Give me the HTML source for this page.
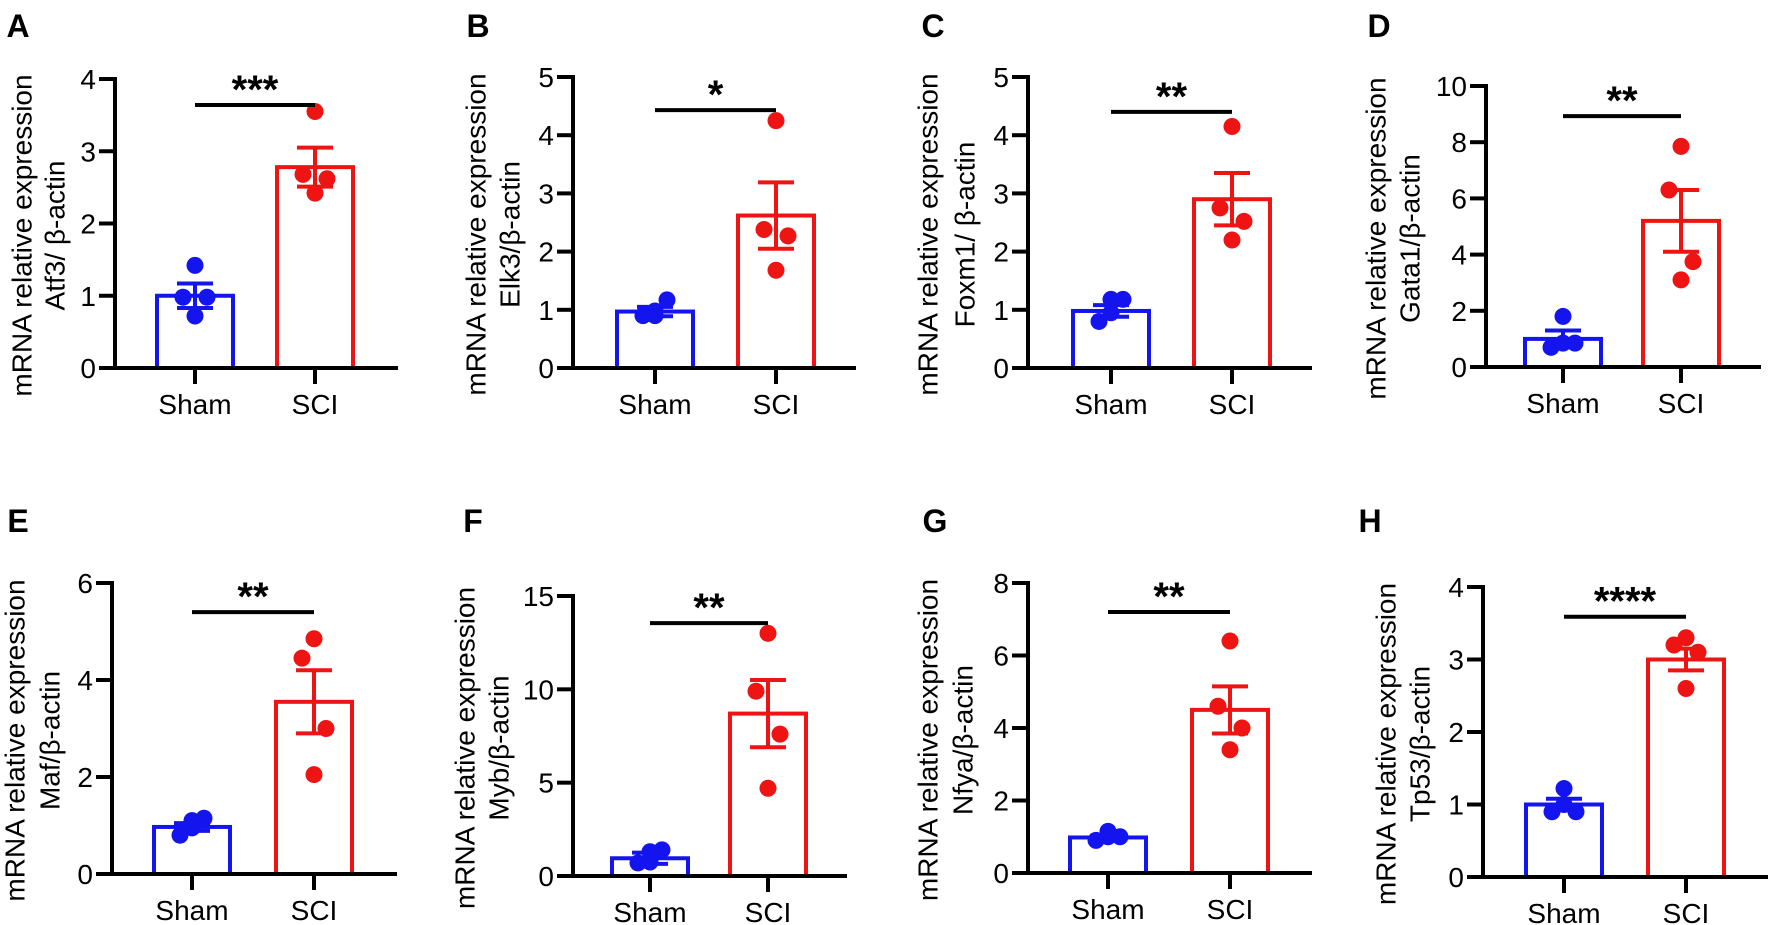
<!DOCTYPE html>
<html><head><meta charset="utf-8"><style>
html,body{margin:0;padding:0;background:#fff}
svg{display:block}
text{font-family:"Liberation Sans",Arial,sans-serif}
</style></head><body>
<svg id="fig" width="1772" height="925" viewBox="0 0 1772 925" xmlns="http://www.w3.org/2000/svg"></svg>
<script>
const panelLetters = ["A","B","C","D","E","F","G","H"];
const genes = ["Atf3/ β-actin","Elk3/β-actin","Foxm1/ β-actin","Gata1/β-actin","Maf/β-actin","Myb/β-actin","Nfya/β-actin","Tp53/β-actin"];
const categories = ["Sham","SCI"];
const yMaxes = [4,5,5,10,6,15,8,4];
const ySteps = [1,1,1,2,2,5,2,1];
const shamMeans = [1.0,0.97,0.98,1.0,0.97,0.95,0.98,1.0];
const shamSems = [0.17,0.08,0.10,0.30,0.08,0.30,0.05,0.08];
const sciMeans = [2.78,2.62,2.9,5.2,3.55,8.7,4.5,3.0];
const sciSems = [0.27,0.57,0.45,1.1,0.65,1.8,0.65,0.15];
const shamPoints = [[1.42,0.98,0.98,0.72],[0.98,0.9,1.17,0.9],[1.18,0.8,1.18,0.95],[1.8,0.7,0.85,0.85],[1.1,0.8,1.15,0.95],[1.3,0.7,1.4,0.75],[1.15,0.9,1.0,1.0],[1.22,0.9,0.9,1.0]];
const sciPoints = [[3.55,2.68,2.62,2.42],[4.25,2.38,2.27,1.68],[4.15,2.75,2.52,2.2],[7.85,6.3,3.75,3.1],[4.85,4.45,3.0,2.05],[13,9.9,7.6,4.7],[6.4,4.6,4.0,3.4],[3.3,3.2,3.1,2.6]];
const sigLevels = [3.64,4.43,4.4,8.93,5.4,13.55,7.2,3.59];
const sigStars = ["***","*","**","**","**","**","**","****"];

// layout (pixels) per panel
const L = [
 {ax:115,top:79,y0:368,c1:195,c2:315,end:398,lx:18,ly:25,t1:24,t2:57},
 {ax:573,top:77,y0:368,c1:655,c2:776,end:856,lx:478,ly:25,t1:478,t2:512},
 {ax:1028,top:77,y0:368,c1:1111,c2:1232,end:1312,lx:933,ly:25,t1:930,t2:967},
 {ax:1486,top:86,y0:367,c1:1563,c2:1681,end:1761,lx:1379,ly:25,t1:1378,t2:1412},
 {ax:112,top:583,y0:874,c1:192,c2:314,end:397,lx:18,ly:520,t1:17,t2:52},
 {ax:573,top:596,y0:876,c1:650,c2:768,end:847,lx:473,ly:520,t1:467,t2:501},
 {ax:1028,top:583,y0:873,c1:1108,c2:1230,end:1312,lx:935,ly:520,t1:930,t2:965},
 {ax:1483,top:587,y0:877,c1:1564,c2:1686,end:1768,lx:1370,ly:520,t1:1388,t2:1422}
];
const jitter = [0,-12,12,0];
const NS = "http://www.w3.org/2000/svg";
const svg = document.getElementById("fig");
function mk(tag, attrs, parent){
  const e = document.createElementNS(NS, tag);
  for (const k in attrs) e.setAttribute(k, attrs[k]);
  (parent||svg).appendChild(e);
  return e;
}
for (let i=0;i<8;i++){
  const g = mk("g",{});
  
  
  const p = L[i];
  const y = v => p.y0 - (v / yMaxes[i]) * (p.y0 - p.top);
  const BW = 76;
  const lt = mk("text",{x:p.lx,y:p.ly+12,"font-size":32,"font-weight":"bold","text-anchor":"middle",fill:"#000"},g);
  lt.textContent = panelLetters[i];
  
  
  const cy = (p.top + p.y0)/2 + 12;
  const t1 = mk("text",{x:p.t1,y:cy,"font-size":28,"text-anchor":"middle",transform:`rotate(-90 ${p.t1} ${cy})`,"dominant-baseline":"middle",fill:"#000"},g);
  t1.textContent = "mRNA relative expression";
  
  
  const t2 = mk("text",{x:p.t2,y:cy,"font-size":28,"text-anchor":"middle",transform:`rotate(-90 ${p.t2} ${cy})`,"dominant-baseline":"middle",fill:"#000"},g);
  t2.textContent = genes[i];
  
  
  const means = [shamMeans[i], sciMeans[i]], sems=[shamSems[i], sciSems[i]], pts=[shamPoints[i], sciPoints[i]];
  const cols = ["#1414ee","#ee1414"], cs=[p.c1,p.c2];
  for (let k=0;k<2;k++){
    const b = mk("rect",{x:cs[k]-BW/2,y:y(means[k]),width:BW,height:p.y0-y(means[k]),fill:"none",stroke:cols[k],"stroke-width":4},g);
    
    
  }
  for (let k=0;k<2;k++){
    pts[k].forEach((v,j)=>{
      const d = mk("circle",{cx:cs[k]+jitter[j],cy:y(v),r:8.5,fill:cols[k]},g);
      
      
    });
    const eb = mk("g",{stroke:cols[k],"stroke-width":4},g);
    
    
    const hi = y(means[k]+sems[k]), lo = y(means[k]-sems[k]);
    mk("line",{x1:cs[k],x2:cs[k],y1:hi,y2:lo},eb);
    mk("line",{x1:cs[k]-18,x2:cs[k]+18,y1:hi,y2:hi},eb);
    mk("line",{x1:cs[k]-18,x2:cs[k]+18,y1:lo,y2:lo},eb);
  }
  const ya = mk("line",{x1:p.ax,x2:p.ax,y1:p.top-2,y2:p.y0+2,stroke:"#000","stroke-width":4},g);
  
  
  const xa = mk("line",{x1:p.ax-16,x2:p.end,y1:p.y0,y2:p.y0,stroke:"#000","stroke-width":4},g);
  
  
  for (let v=0; v<=yMaxes[i]+1e-9; v+=ySteps[i]){
    mk("line",{x1:p.ax-16,x2:p.ax,y1:y(v),y2:y(v),stroke:"#000","stroke-width":4},g);
    const tl = mk("text",{x:p.ax-19,y:y(v)+10,"font-size":28,"text-anchor":"end",fill:"#000"},g);
    tl.textContent = String(v);
    
    
  }
  for (let k=0;k<2;k++){
    mk("line",{x1:cs[k],x2:cs[k],y1:p.y0,y2:p.y0+16,stroke:"#000","stroke-width":4},g);
    const xl = mk("text",{x:cs[k],y:p.y0+46,"font-size":28,"text-anchor":"middle",fill:"#000"},g);
    xl.textContent = categories[k];
    
    
  }
  const sy = y(sigLevels[i]);
  const sl = mk("line",{x1:p.c1,x2:p.c2,y1:sy,y2:sy,stroke:"#000","stroke-width":4},g);
  
  
  const st = mk("text",{x:(p.c1+p.c2)/2,y:sy-2,"font-size":40,"font-weight":"bold","text-anchor":"middle",fill:"#000"},g);
  st.textContent = sigStars[i];
  
  
}
</script>
</body></html>
